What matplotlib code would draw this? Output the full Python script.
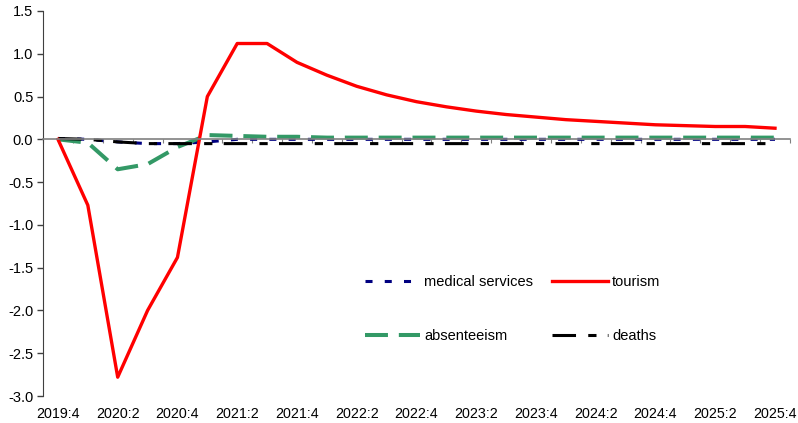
import numpy as np
import matplotlib.pyplot as plt

plt.rcParams['font.family'] = ['Liberation Sans', 'DejaVu Sans']

# quarters 2019:4 .. 2025:4
quarters = ['2019:4', '2020:1', '2020:2', '2020:3', '2020:4',
            '2021:1', '2021:2', '2021:3', '2021:4',
            '2022:1', '2022:2', '2022:3', '2022:4',
            '2023:1', '2023:2', '2023:3', '2023:4',
            '2024:1', '2024:2', '2024:3', '2024:4',
            '2025:1', '2025:2', '2025:3', '2025:4']

medical = [0.01, 0.0, -0.03, -0.05, -0.05, -0.03, 0.0, 0.0, 0.0,
           0.0, 0.0, 0.0, 0.0, 0.0, 0.0, 0.0, 0.0,
           0.0, 0.0, 0.0, 0.0, 0.0, 0.0, 0.0, 0.0]
tourism = [0.0, -0.77, -2.78, -2.0, -1.38, 0.5, 1.12, 1.12, 0.9,
           0.75, 0.62, 0.52, 0.44, 0.38, 0.33, 0.29, 0.26,
           0.23, 0.21, 0.19, 0.17, 0.16, 0.15, 0.15, 0.13]
absenteeism = [0.0, -0.04, -0.35, -0.29, -0.09, 0.05, 0.04, 0.03, 0.03,
               0.02, 0.02, 0.02, 0.02, 0.02, 0.02, 0.02, 0.02,
               0.02, 0.02, 0.02, 0.02, 0.02, 0.02, 0.02, 0.02]
deaths = [0.01, 0.0, -0.03, -0.05, -0.05, -0.05, -0.05, -0.05, -0.05,
          -0.05, -0.05, -0.05, -0.05, -0.05, -0.05, -0.05, -0.05,
          -0.05, -0.05, -0.05, -0.05, -0.05, -0.05, -0.05, -0.05]

x = np.arange(len(quarters))

fig = plt.figure(figsize=(7.98, 4.23), dpi=100)
ax = fig.add_axes([0.0539, 0.0638, 0.936, 0.9102])

l_med, = ax.plot(x, medical, color='#000080', lw=2.2, dashes=(2.3, 4.0), solid_capstyle='butt')
l_abs, = ax.plot(x, absenteeism, color='#339966', lw=2.9, dashes=(5.7, 2.7))
l_dea, = ax.plot(x, deaths, color='black', lw=2.2, dashes=(7.7, 4.0, 2.7, 3.7))
l_tou, = ax.plot(x, tourism, color='#ff0000', lw=2.4)

ax.set_xlim(-0.5, len(quarters) - 0.5)
ax.set_ylim(-3.0, 1.5)
ax.set_yticks(np.arange(-3.0, 1.51, 0.5))
ax.set_yticklabels(['%.1f' % v for v in np.arange(-3.0, 1.51, 0.5)])
ax.tick_params(axis='y', direction='out', length=4, width=1, color='#404040',
               labelsize=10.5, pad=3)

for s in ['top', 'right']:
    ax.spines[s].set_visible(False)
ax.spines['left'].set_color('#404040')
ax.spines['bottom'].set_position(('data', 0))
ax.spines['bottom'].set_color('#808080')
ax.spines['bottom'].set_linewidth(1.2)

# ticks on the zero line between categories
ax.set_xticks(np.arange(-0.5, len(quarters)))
ax.tick_params(axis='x', direction='out', length=3, color='#808080', labelbottom=False)

# labels at the bottom of the plot
sec = ax.secondary_xaxis('bottom')
sec.set_xticks(x[::2])
sec.set_xticklabels(quarters[::2])
sec.tick_params(length=0, labelsize=10.3, pad=8)
sec.spines['bottom'].set_visible(False)

ax.legend([l_med, l_abs, l_tou, l_dea],
          ['medical services', 'absenteeism', 'tourism', 'deaths'],
          ncol=2, frameon=False, loc='upper left',
          bbox_to_anchor=(0.457, 0.349), bbox_transform=fig.transFigure,
          borderaxespad=0, borderpad=0, handlelength=3.8, handletextpad=0.3,
          columnspacing=1.3, labelspacing=2.75, fontsize=10.5)

fig.savefig('out.png', dpi=100)
